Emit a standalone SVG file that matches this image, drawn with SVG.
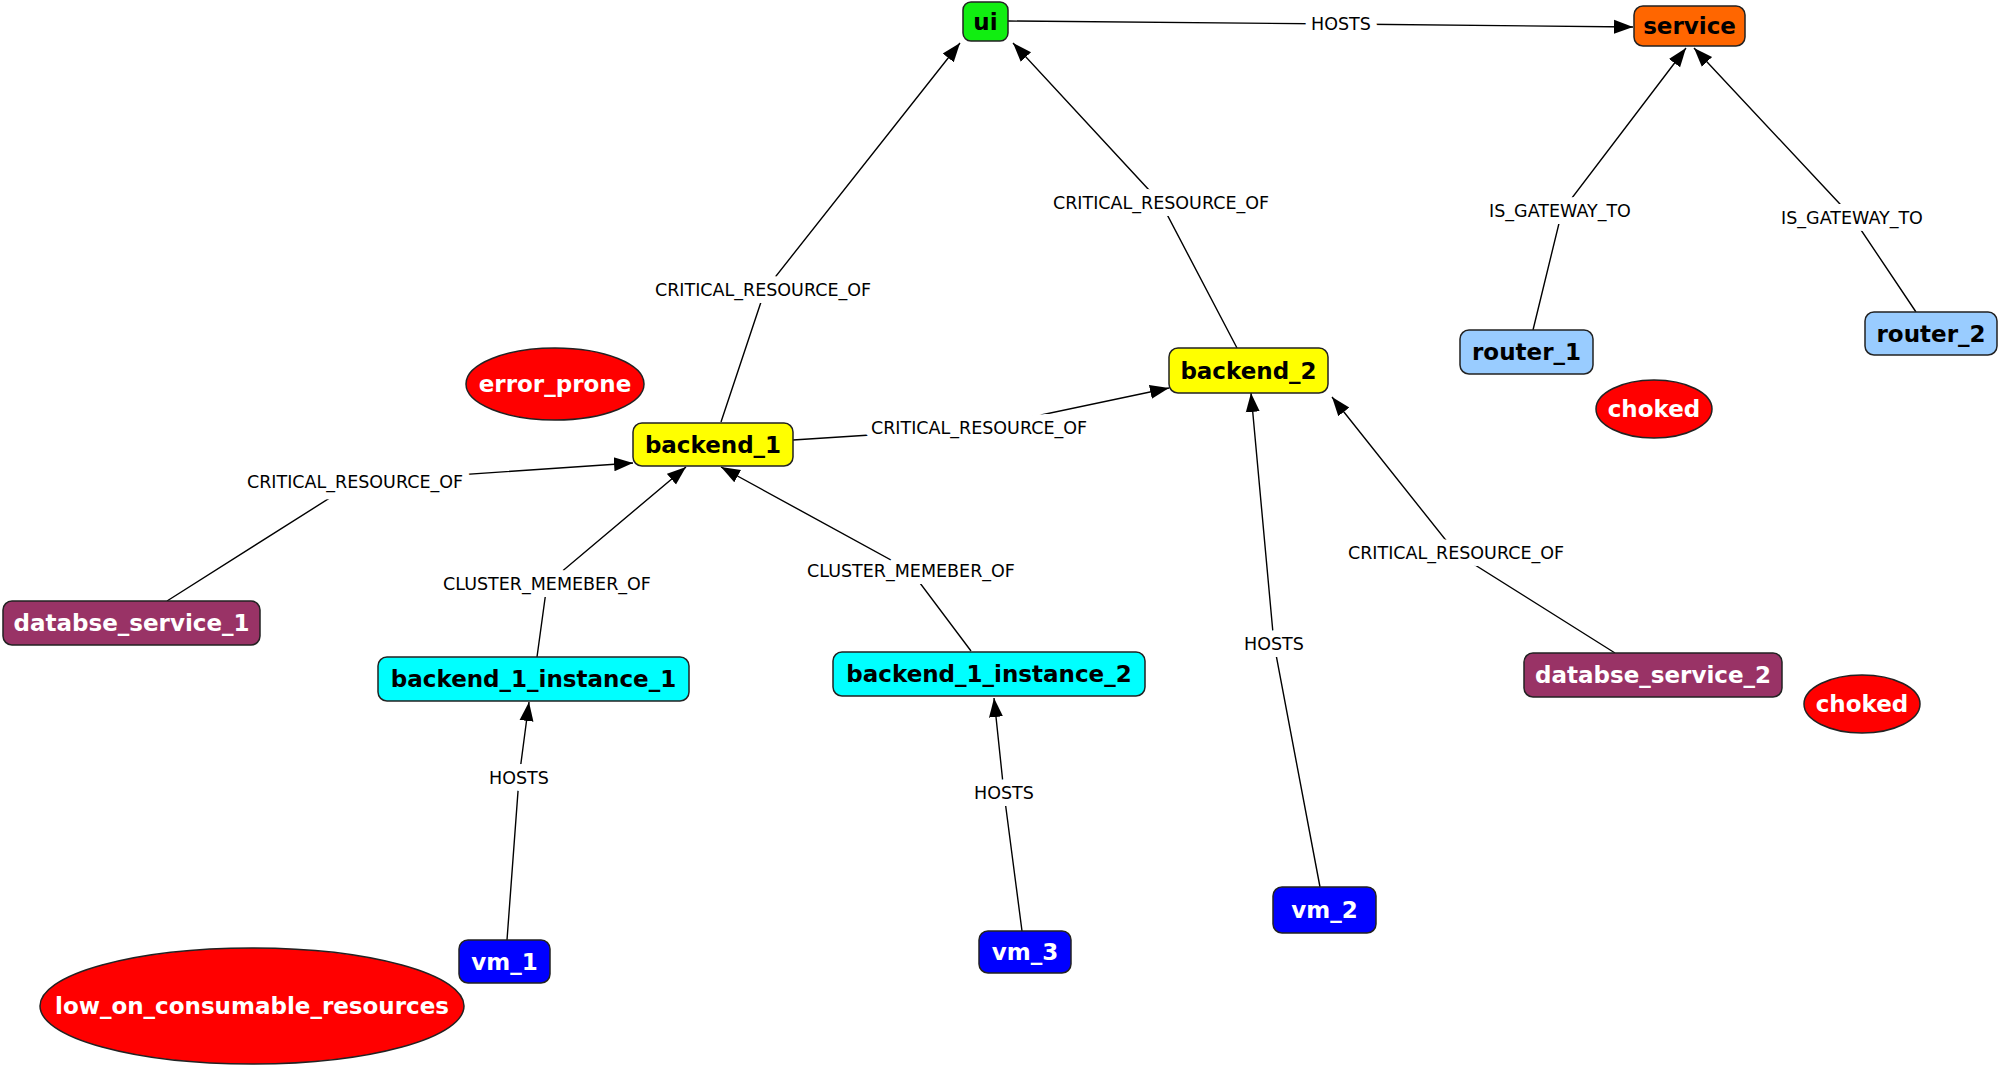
<svg xmlns="http://www.w3.org/2000/svg" width="2000" height="1068" viewBox="0 0 2000 1068">
<style>
.n{stroke:#222;stroke-width:1.5}
.t{font-family:"DejaVu Sans",Verdana,sans-serif;font-weight:bold;font-size:23px;text-anchor:middle;dominant-baseline:central}
.w{fill:#fff}
.k{fill:#000}
.e{fill:none;stroke:#000;stroke-width:1.4}
.l{font-family:"DejaVu Sans",Verdana,sans-serif;font-size:17.5px;text-anchor:middle;dominant-baseline:central;fill:#000;stroke:#fff;stroke-width:14;stroke-linejoin:round;paint-order:stroke}
</style>
<defs>
<marker id="a" markerUnits="userSpaceOnUse" markerWidth="20" markerHeight="16" refX="19" refY="8" orient="auto"><path d="M0,1 L19,8 L0,15 z" fill="#000"/></marker>
</defs>
<rect width="2000" height="1068" fill="#fff"/>
<g id="edges">
<path class="e" d="M1008,21 L1341,24 L1633,27" marker-end="url(#a)"/>
<path class="e" d="M721,422 L765,290 L960,43" marker-end="url(#a)"/>
<path class="e" d="M1237,348 L1161,203 L1013,43" marker-end="url(#a)"/>
<path class="e" d="M1533,330 L1562,211 L1686,48" marker-end="url(#a)"/>
<path class="e" d="M1916,312 L1853,218 L1694,48" marker-end="url(#a)"/>
<path class="e" d="M793,440 L979,428 L1169,388" marker-end="url(#a)"/>
<path class="e" d="M167,601 L355,482 L633,463" marker-end="url(#a)"/>
<path class="e" d="M537,657 L547,584 L686,467" marker-end="url(#a)"/>
<path class="e" d="M971,651 L911,571 L721,467" marker-end="url(#a)"/>
<path class="e" d="M507,940 L519,778 L529,702" marker-end="url(#a)"/>
<path class="e" d="M1022,931 L1004,793 L994,698" marker-end="url(#a)"/>
<path class="e" d="M1320,887 L1274,644 L1251,393" marker-end="url(#a)"/>
<path class="e" d="M1615,653 L1456,553 L1332,397" marker-end="url(#a)"/>
<text class="l" x="1341" y="24">HOSTS</text>
<text class="l" x="763" y="290">CRITICAL_RESOURCE_OF</text>
<text class="l" x="1161" y="203">CRITICAL_RESOURCE_OF</text>
<text class="l" x="1560" y="211">IS_GATEWAY_TO</text>
<text class="l" x="1852" y="218">IS_GATEWAY_TO</text>
<text class="l" x="979" y="428">CRITICAL_RESOURCE_OF</text>
<text class="l" x="355" y="482">CRITICAL_RESOURCE_OF</text>
<text class="l" x="547" y="584">CLUSTER_MEMEBER_OF</text>
<text class="l" x="911" y="571">CLUSTER_MEMEBER_OF</text>
<text class="l" x="519" y="778">HOSTS</text>
<text class="l" x="1004" y="793">HOSTS</text>
<text class="l" x="1274" y="644">HOSTS</text>
<text class="l" x="1456" y="553">CRITICAL_RESOURCE_OF</text>
</g>
<g id="ui"><rect class="n" x="963" y="2" width="45" height="39" rx="8" fill="#11ee11"/><text class="t k" x="985.5" y="21.5">ui</text></g>
<g id="service"><rect class="n" x="1634" y="6" width="111" height="40" rx="9" fill="#ff6600"/><text class="t k" x="1689.5" y="26">service</text></g>
<g id="router_1"><rect class="n" x="1460" y="330" width="133" height="44" rx="9" fill="#99ccff"/><text class="t k" x="1526.5" y="352">router_1</text></g>
<g id="router_2"><rect class="n" x="1865" y="312" width="132" height="43" rx="9" fill="#99ccff"/><text class="t k" x="1931" y="333.5">router_2</text></g>
<g id="backend_2"><rect class="n" x="1169" y="348" width="159" height="45" rx="9" fill="#ffff00"/><text class="t k" x="1248.5" y="370.5">backend_2</text></g>
<g id="backend_1"><rect class="n" x="633" y="423" width="160" height="43" rx="9" fill="#ffff00"/><text class="t k" x="713" y="444.5">backend_1</text></g>
<g id="error_prone"><ellipse class="n" cx="555" cy="384" rx="89" ry="36" fill="#ff0000"/><text class="t w" x="555" y="384">error_prone</text></g>
<g id="choked_1"><ellipse class="n" cx="1654" cy="409" rx="58" ry="29" fill="#ff0000"/><text class="t w" x="1654" y="409">choked</text></g>
<g id="databse_service_1"><rect class="n" x="3" y="601" width="257" height="44" rx="9" fill="#993366"/><text class="t w" x="131.5" y="623">databse_service_1</text></g>
<g id="backend_1_instance_1"><rect class="n" x="378" y="657" width="311" height="44" rx="9" fill="#00ffff"/><text class="t k" x="533.5" y="679">backend_1_instance_1</text></g>
<g id="backend_1_instance_2"><rect class="n" x="833" y="652" width="312" height="44" rx="9" fill="#00ffff"/><text class="t k" x="989" y="674">backend_1_instance_2</text></g>
<g id="databse_service_2"><rect class="n" x="1524" y="653" width="258" height="44" rx="9" fill="#993366"/><text class="t w" x="1653" y="675">databse_service_2</text></g>
<g id="choked_2"><ellipse class="n" cx="1862" cy="704" rx="58" ry="29" fill="#ff0000"/><text class="t w" x="1862" y="704">choked</text></g>
<g id="vm_2"><rect class="n" x="1273" y="887" width="103" height="46" rx="9" fill="#0000ff"/><text class="t w" x="1324.5" y="910">vm_2</text></g>
<g id="vm_3"><rect class="n" x="979" y="931" width="92" height="42" rx="9" fill="#0000ff"/><text class="t w" x="1025" y="952">vm_3</text></g>
<g id="vm_1"><rect class="n" x="459" y="940" width="91" height="43" rx="9" fill="#0000ff"/><text class="t w" x="504.5" y="961.5">vm_1</text></g>
<g id="low_on_consumable_resources"><ellipse class="n" cx="252" cy="1006" rx="212" ry="58" fill="#ff0000"/><text class="t w" x="252" y="1006">low_on_consumable_resources</text></g>
</svg>
